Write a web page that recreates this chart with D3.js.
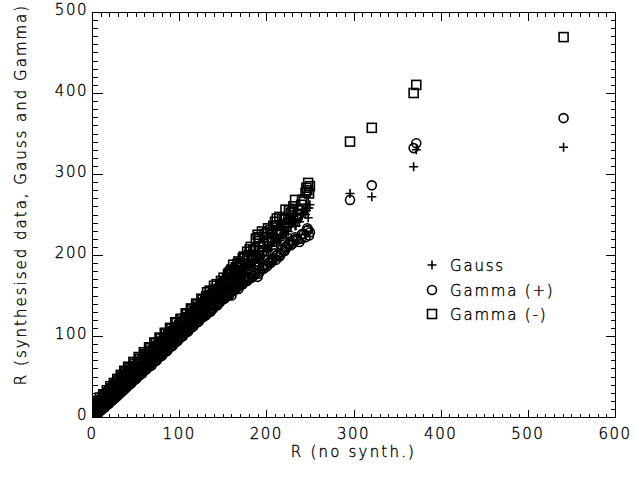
<!DOCTYPE html>
<html>
<head>
<meta charset="utf-8">
<script src="https://cdn.jsdelivr.net/npm/d3@7/dist/d3.min.js"></script>
<style>
  html, body { margin: 0; padding: 0; background: #fff; }
  text { font-family: "DejaVu Sans", sans-serif; font-weight: 200; fill: #000; stroke: #000; stroke-width: 0.35px; }
</style>
</head>
<body>
<svg id="chart" width="634" height="477"></svg>
<script>
// ---- data ----
const rNoSynth = [0,1,2,3,4,5,6,7,8,
  10,12,14,16,18,20,22,24,26,28,30,32,34,36,38,40,
  43,46,49,52,55,58,61,64,67,70,73,76,79,82,85,88,91,94,97,100,103,106,109,112,115,118,121,124,127,130,
  134,138,142,146,150,154,158,162,166,170,175,180,185,190,195,200,205,210,215,220,226,231,238,245,248,250,
  296,321,369,372,541,
  0.5,1.5,2.5,3.5,4.5,5.5,6.5,7.5,
  9,11,13,15,17,19,21,23,25,27,29,31,33,35,37,39,
  41.5,44.5,47.5,50.5,53.5,56.5,59.5,62.5,65.5,68.5,71.5,74.5,77.5,80.5,83.5,86.5,89.5,92.5,95.5,98.5,
  101.5,104.5,107.5,110.5,113.5,116.5,119.5,122.5,125.5,128.5,
  132,136,140,144,148,152,156,160,164,168,172,
  178,183,188,193,198,203,208,213,218,223,228,234,241,247,
  0,2.5,5,7.5,10,12.5,15,17.5,20,22.5,25,27.5,30,32.5,35,37.5,40,42.5,45,47.5,
  50,52.5,55,57.5,60,62.5,65,67.5,70,72.5,75,77.5,80,82.5,85,87.5,90,92.5,95,97.5,
  100,102.5,105,107.5,110,112.5,115,117.5,120,122.5,125,127.5,130,132.5,135,137.5,140,142.5,145,147.5,150,
  152,157,161,165,169,173,176,181,186,191,196,201,206,211,216,221,225,230,236,243,249,
  131,135,139,143,147,151,155,159,163,167,171,174,178,182,187,192,197,202,207,212,217,222,228,233,240,246];
const gauss = [2,4,3,6,5,8,7,10,9,
  13,12,17,17,21,21,26,25,30,29,34,33,38,37,42,41,
  47,47,54,54,60,60,66,66,73,72,79,78,85,84,91,90,97,96,104,102,110,108,116,114,122,120,128,126,134,132,
  140,141,149,149,158,157,165,166,172,174,182,185,192,196,200,206,212,222,218,228,235,243,241,250,246,262,
  276,272,309,330,333,
  1,3,5,4,7,6,9,8,
  11,14,13,18,18,22,22,27,26,31,30,35,34,39,38,43,
  44,49,50,55,56,62,62,68,68,75,74,81,80,87,86,93,92,99,98,106,
  104,112,110,118,116,124,122,130,128,137,
  138,144,145,153,152,162,160,170,168,178,176,
  188,186,200,197,210,207,221,216,231,226,240,236,255,258,
  6,8,10,14,15,18,21,22,26,28,30,34,35,38,41,42,46,48,50,54,
  55,58,61,62,66,68,70,74,75,78,81,82,86,88,90,94,95,98,101,102,
  106,108,110,114,115,118,121,122,126,128,130,134,135,138,141,142,146,148,150,154,155,
  155,162,163,170,171,179,178,188,190,197,199,209,211,219,220,230,229,240,243,252,258,
  136,137,145,146,154,153,162,161,170,169,178,177,185,187,195,194,204,205,215,214,226,222,238,236,250,255];
const gammaPos = [0,0,1,2,3,3,5,5,6,
  8,10,12,14,16,17,20,21,23,25,27,29,31,33,35,37,
  40,43,46,49,52,54,58,61,63,67,69,73,75,79,81,85,87,91,93,97,99,103,105,109,111,115,117,121,123,127,
  130,133,138,141,146,149,152,156,160,163,168,172,174,173,184,188,190,202,198,205,214,218,216,222,231,228,
  268,286,332,338,369,
  0,0,2,1,2,4,4,6,
  7,9,11,12,15,16,19,20,23,24,27,28,31,32,35,36,
  39,41,45,47,51,53,57,59,63,64,69,70,75,76,81,82,87,88,93,94,
  99,100,105,106,111,112,117,118,123,124,
  129,130,137,138,145,146,153,150,157,158,166,
  170,172,181,180,187,191,196,200,207,209,216,220,226,233,
  2,4,6,9,11,13,16,18,21,24,26,29,31,34,36,39,41,44,46,49,
  51,54,56,59,62,64,66,69,71,74,77,79,81,84,86,89,92,94,96,99,
  101,104,107,109,111,114,117,119,121,124,127,129,131,134,137,139,141,144,147,149,151,
  147,150,156,158,162,164,169,171,178,177,186,186,194,194,200,205,213,214,219,226,224,
  126,131,134,139,142,148,150,155,158,162,164,170,168,178,176,186,183,194,193,200,203,210,212,222,220,230];
const gammaNeg = [5,15,7,17,9,15,10,17,13,
  20,16,25,21,30,25,35,30,40,35,45,39,50,44,55,48,
  60,54,66,60,72,66,78,72,85,79,91,85,97,91,103,97,109,104,116,110,121,116,127,123,133,129,139,135,145,141,
  150,148,158,156,165,160,175,188,184,190,196,200,206,225,229,222,231,241,247,238,255,260,255,277,289,285,
  340,357,400,410,469,
  10,4,18,6,19,9,20,11,
  24,14,28,19,33,23,38,27,42,32,47,36,52,41,57,45,
  62,50,68,57,74,63,80,69,86,75,92,81,98,88,104,94,110,100,117,106,
  121,112,128,118,134,124,140,130,146,137,
  154,146,162,152,168,158,176,182,180,192,186,
  204,198,220,210,226,218,236,228,244,235,252,246,268,280,
  9,13,16,19,21,25,27,30,33,35,38,41,42,46,48,51,53,56,58,61,
  63,66,68,71,73,76,78,81,83,86,88,91,93,96,98,101,103,106,108,111,
  113,116,118,121,123,126,128,131,133,136,138,141,143,146,148,151,152,156,157,161,162,
  167,178,172,185,181,196,189,207,200,217,211,228,222,236,230,244,240,253,250,268,276,
  149,156,156,164,163,172,170,180,178,189,186,198,193,210,205,222,214,233,226,245,236,256,246,268,262,283];
const xTickValues = [0,100,200,300,400,500,600];
const yTickValues = [0,100,200,300,400,500];
const seriesNames = ["Gauss", "Gamma (+)", "Gamma (-)"];
const xTitle = "R (no synth.)";
const yTitle = "R (synthesised data, Gauss and Gamma)";

// ---- layout ----
const svg = d3.select("#chart");
const L = 92, R = 615, T = 12, B = 417;
const x = d3.scaleLinear().domain([0, 600]).range([L, R]);
const y = d3.scaleLinear().domain([0, 500]).range([B, T]);

svg.append("rect").attr("width", 634).attr("height", 477).attr("fill", "#fff");

svg.append("defs").append("clipPath").attr("id", "plotclip")
  .append("rect").attr("x", L).attr("y", T).attr("width", R - L).attr("height", B - T);

// ---- axes (IDL style: ticks inward on all four sides) ----
const xMinor = d3.range(0, 601, 10);
const yMinor = d3.range(0, 501, 10);
const axG = svg.append("g").attr("shape-rendering", "crispEdges").attr("stroke", "#000").attr("stroke-width", 1);
axG.append("rect").attr("x", L + 0.5).attr("y", T + 0.5).attr("width", R - L).attr("height", B - T).attr("fill", "none");

function xTickLen(v) { return v % 100 === 0 ? 8 : 4; }
function yTickLen(v) { return v % 100 === 0 ? 10 : 5; }
xMinor.forEach(v => {
  const px = Math.round(x(v)) + 0.5;
  axG.append("line").attr("x1", px).attr("x2", px).attr("y1", B + 0.5).attr("y2", B + 0.5 - xTickLen(v));
  axG.append("line").attr("x1", px).attr("x2", px).attr("y1", T + 0.5).attr("y2", T + 0.5 + xTickLen(v));
});
yMinor.forEach(v => {
  const py = Math.round(y(v)) + 0.5;
  axG.append("line").attr("y1", py).attr("y2", py).attr("x1", L + 0.5).attr("x2", L + 0.5 + yTickLen(v));
  axG.append("line").attr("y1", py).attr("y2", py).attr("x1", R + 0.5).attr("x2", R + 0.5 - yTickLen(v));
});

// tick labels
const fs = 15;
svg.append("g").selectAll("text").data(xTickValues).join("text")
  .attr("x", d => x(d)).attr("y", 439)
  .attr("text-anchor", "middle").attr("font-size", fs).attr("letter-spacing", 1.5)
  .text(d => d);
svg.append("g").selectAll("text").data(yTickValues).join("text")
  .attr("x", 88).attr("y", d => y(d) + 3)
  .attr("text-anchor", "end").attr("font-size", fs).attr("letter-spacing", 1.5)
  .text(d => d);

// axis titles
svg.append("text").attr("x", (L + R) / 2).attr("y", 457)
  .attr("text-anchor", "middle").attr("font-size", fs).attr("letter-spacing", 2.2)
  .text(xTitle);
svg.append("text").attr("transform", `translate(26,${(T + B) / 2 - 20}) rotate(-90)`)
  .attr("text-anchor", "middle").attr("font-size", fs).attr("letter-spacing", 2.0)
  .text(yTitle);

// ---- markers ----
const s = 4.5;
const sw = 1.6;
function drawPlus(g, cx, cy) {
  g.append("path").attr("d", `M${cx - s},${cy}H${cx + s}M${cx},${cy - s}V${cy + s}`)
    .attr("stroke", "#000").attr("fill", "none").attr("stroke-width", sw);
}
function drawCircle(g, cx, cy) {
  g.append("circle").attr("cx", cx).attr("cy", cy).attr("r", s)
    .attr("stroke", "#000").attr("fill", "none").attr("stroke-width", sw);
}
function drawSquare(g, cx, cy) {
  g.append("rect").attr("x", cx - s).attr("y", cy - s).attr("width", 2 * s).attr("height", 2 * s)
    .attr("stroke", "#000").attr("fill", "none").attr("stroke-width", sw);
}
const plotG = svg.append("g").attr("clip-path", "url(#plotclip)");
const gG = plotG.append("g"), gP = plotG.append("g"), gN = plotG.append("g");
rNoSynth.forEach((r, i) => {
  drawPlus(gG, x(r), y(gauss[i]));
  drawCircle(gP, x(r), y(gammaPos[i]));
  drawSquare(gN, x(r), y(gammaNeg[i]));
});

// ---- legend ----
const lg = svg.append("g");
const legendYs = [265, 290, 314];
const drawers = [drawPlus, drawCircle, drawSquare];
seriesNames.forEach((name, i) => {
  drawers[i](lg, 432, legendYs[i]);
  lg.append("text").attr("x", 450).attr("y", legendYs[i] + 5.5)
    .attr("font-size", fs).attr("letter-spacing", 1.8).text(name);
});
</script>
</body>
</html>
